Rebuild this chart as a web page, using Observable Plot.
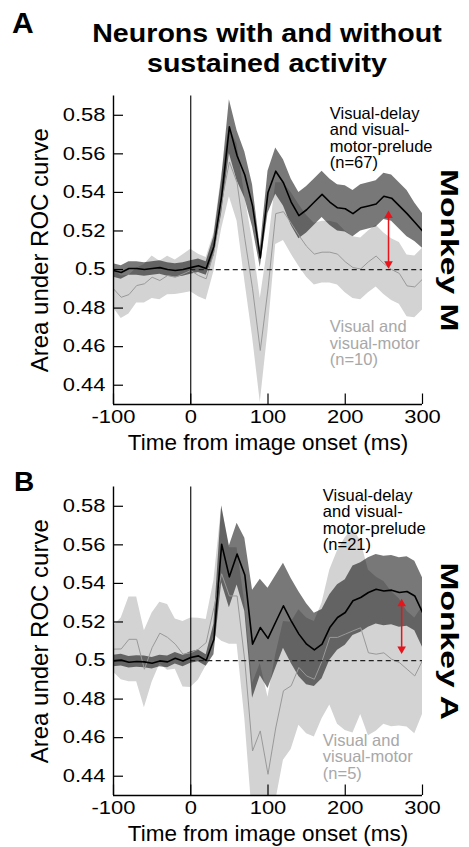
<!DOCTYPE html>
<html><head><meta charset="utf-8">
<script src="https://cdn.jsdelivr.net/npm/d3@7"></script>
<script src="https://cdn.jsdelivr.net/npm/@observablehq/plot@0.6"></script>
<style>
body{margin:0;background:#fff;font-family:"Liberation Sans",Arial,sans-serif;}
#fig{position:relative;width:469px;height:847px;overflow:hidden;background:#fff;}
.panel{position:absolute;left:0;}
.title{position:absolute;left:67px;width:400px;height:27px;text-align:center;font-weight:bold;font-size:26px;line-height:27px;color:#000;z-index:2;transform:scaleX(1.1);transform-origin:200px 50%;}
.plabel{position:absolute;font-weight:bold;color:#000;z-index:2;}
</style></head>
<body><div id="fig">
<div class="title" style="top:20px">Neurons with and without</div>
<div class="title" style="top:50px">sustained activity</div>
<div class="plabel" style="left:12px;top:8px;font-size:30px;line-height:30px;">A</div>
<div class="plabel" style="left:14px;top:468px;font-size:28px;line-height:28px;">B</div>
<div class="panel" id="pA" style="top:0px"></div>
<div class="panel" id="pB" style="top:391px"></div>
</div>
<script>
// ---- data ----
const time = [-100,-90,-80,-70,-60,-50,-40,-30,-20,-10,0,10,20,30,40,50,60,70,80,90,100,110,120,130,140,150,160,170,180,190,200,210,220,230,240,250,260,270,280,290,300];

// Monkey M: visual-delay and visual-motor-prelude (n=67)
const mVd   = [0.4995,0.4985,0.5005,0.5005,0.5,0.5005,0.501,0.5,0.4995,0.5,0.501,0.502,0.5005,0.512,0.538,0.574,0.559,0.549,0.533,0.506,0.540,0.551,0.545,0.535,0.528,0.531,0.535,0.539,0.535,0.532,0.5315,0.529,0.532,0.533,0.534,0.538,0.537,0.533,0.529,0.5245,0.520];
const mVdSe = [0.0035,0.0035,0.0035,0.0035,0.0035,0.0035,0.0035,0.0035,0.0035,0.0035,0.0035,0.0035,0.0035,0.005,0.009,0.014,0.013,0.012,0.011,0.005,0.011,0.012,0.012,0.012,0.012,0.012,0.012,0.012,0.012,0.012,0.012,0.012,0.012,0.012,0.012,0.012,0.012,0.012,0.012,0.010,0.009];
// Monkey M: visual and visual-motor (n=10)
const mV    = [0.490,0.4856,0.487,0.4917,0.4926,0.496,0.4943,0.4969,0.496,0.4977,0.4995,0.4969,0.4952,0.509,0.535,0.5558,0.545,0.516,0.49,0.458,0.49,0.529,0.530,0.524,0.5177,0.512,0.508,0.509,0.509,0.508,0.504,0.501,0.5003,0.504,0.507,0.503,0.5,0.498,0.4915,0.491,0.495];
const mVSe  = [0.010,0.011,0.010,0.009,0.010,0.011,0.010,0.010,0.009,0.010,0.011,0.011,0.011,0.010,0.014,0.018,0.020,0.022,0.025,0.027,0.022,0.016,0.015,0.016,0.016,0.016,0.016,0.016,0.016,0.016,0.016,0.016,0.016,0.016,0.016,0.016,0.016,0.016,0.016,0.016,0.016];

// Monkey A: visual-delay and visual-motor-prelude (n=21)
const aVd   = [0.4998,0.5002,0.4991,0.4995,0.4993,0.4986,0.4998,0.4993,0.5012,0.4998,0.5016,0.5024,0.5,0.511,0.5603,0.5434,0.5552,0.5444,0.5085,0.5171,0.5115,0.520,0.5284,0.5206,0.5137,0.5085,0.5055,0.5085,0.5171,0.5223,0.5249,0.531,0.5327,0.5353,0.537,0.5361,0.5365,0.5353,0.5358,0.5335,0.5249];
const aVdSe = [0.003,0.003,0.003,0.003,0.003,0.003,0.003,0.003,0.003,0.003,0.003,0.003,0.003,0.008,0.02,0.016,0.016,0.019,0.028,0.025,0.026,0.024,0.022,0.022,0.022,0.021,0.019,0.018,0.017,0.017,0.017,0.018,0.018,0.018,0.018,0.018,0.018,0.018,0.018,0.018,0.018];
// Monkey A: visual and visual-motor (n=5)
const aV    = [0.5059,0.506,0.511,0.511,0.4955,0.5067,0.5142,0.512,0.5085,0.5033,0.504,0.5059,0.5093,0.5275,0.545,0.5335,0.5335,0.4998,0.4531,0.4635,0.441,0.465,0.4843,0.4869,0.4964,0.492,0.4903,0.4998,0.512,0.512,0.5137,0.5154,0.517,0.504,0.5033,0.504,0.5007,0.499,0.4955,0.492,0.5];
const aVSe  = [0.012,0.016,0.022,0.022,0.02,0.018,0.016,0.017,0.013,0.017,0.018,0.016,0.012,0.014,0.035,0.025,0.025,0.03,0.035,0.035,0.04,0.038,0.036,0.033,0.03,0.03,0.03,0.03,0.035,0.045,0.05,0.053,0.045,0.043,0.04,0.037,0.035,0.033,0.03,0.03,0.028];

// axes
const xDomain = [-100, 300];
const yDomain = [0.43, 0.59];
const xTicks = [-100, 0, 100, 200, 300];
const xTickLabels = ["-100", "0", "100", "200", "300"];
const yTicks = [0.44, 0.46, 0.48, 0.5, 0.52, 0.54, 0.56, 0.58];
const yTickLabels = ["0.44", "0.46", "0.48", "0.5", "0.52", "0.54", "0.56", "0.58"];
const xLabel = "Time from image onset (ms)";
const yLabel = "Area under ROC curve";
const chance = [{auc: 0.5, t1: 0, t2: 300}];

// annotations (data coordinates)
const labelsM = [
  {t: 180, auc: 0.5842, text: "Visual-delay\nand visual-\nmotor-prelude\n(n=67)", kind: "vd"},
  {t: 180, auc: 0.4736, text: "Visual and\nvisual-motor\n(n=10)", kind: "v"}
];
const labelsA = [
  {t: 171, auc: 0.589, text: "Visual-delay\nand visual-\nmotor-prelude\n(n=21)", kind: "vd"},
  {t: 171, auc: 0.462, text: "Visual and\nvisual-motor\n(n=5)", kind: "v"}
];
const arrowM = [{t: 256, lo: 0.503, hi: 0.528}];
const arrowA = [{t: 273, lo: 0.506, hi: 0.5294}];

function makePanel(name, vd, vdSe, v, vSe, labels, arrow) {
  const rows = time.map((t, i) => ({t, vd: vd[i], vdSe: vdSe[i], v: v[i], vSe: vSe[i]}));
  const font = '"Liberation Sans", Arial, sans-serif';
  const plot = Plot.plot({
    width: 469, height: 462,
    marginLeft: 113, marginRight: 47, marginTop: 95.5, marginBottom: 58,
    x: {domain: xDomain, axis: null},
    y: {domain: yDomain, axis: null},
    style: {fontFamily: font, background: "transparent", color: "black"},
    marks: [
      Plot.areaY(rows, {x: "t", y1: d => d.v - d.vSe, y2: d => d.v + d.vSe, fill: "#d3d3d3", clip: true}),
      Plot.areaY(rows, {x: "t", y1: d => d.vd - d.vdSe, y2: d => d.vd + d.vdSe, fill: "black", fillOpacity: 0.53, clip: true}),
      Plot.lineY(rows, {x: "t", y: "v", stroke: "#999", strokeWidth: 1, clip: true}),
      Plot.ruleY(chance, {y: "auc", x1: "t1", x2: "t2", stroke: "#222", strokeWidth: 1.2, strokeDasharray: "5,3.5"}),
      Plot.lineY(rows, {x: "t", y: "vd", stroke: "black", strokeWidth: 1.6, clip: true}),
      Plot.ruleX([0], {stroke: "black", strokeWidth: 1.1}),
      Plot.ruleX([xDomain[0]], {stroke: "black", strokeWidth: 1.4}),
      Plot.ruleY([yDomain[0]], {stroke: "black", strokeWidth: 1.4}),
      Plot.tickY(yTicks, {y: d => d, insetRight: 299, stroke: "black", strokeWidth: 1.2}),
      Plot.tickX(xTicks, {x: d => d, insetTop: 298, stroke: "black", strokeWidth: 1.2}),
      Plot.axisY({ticks: yTicks, tickSize: 0, tickPadding: 8, fontSize: 18, tickFormat: d => yTickLabels[yTicks.indexOf(d)]}),
      Plot.axisX({ticks: xTicks, tickSize: 0, tickPadding: 6, fontSize: 18, label: null, tickFormat: d => xTickLabels[xTicks.indexOf(d)]}),
      Plot.text([xLabel], {frameAnchor: "bottom", dy: 30, lineAnchor: "top", textAnchor: "middle", fontSize: 22.5, text: d => d}),
      Plot.text([yLabel], {frameAnchor: "left", dx: -73, rotate: -90, textAnchor: "middle", lineAnchor: "middle", fontSize: 24, text: d => d}),
      Plot.text([name], {frameAnchor: "right", dx: 26, rotate: 90, textAnchor: "middle", lineAnchor: "middle", fontSize: 24, fontWeight: "bold", text: d => d}),
      Plot.text(labels, {x: "t", y: "auc", text: "text", textAnchor: "start", lineAnchor: "top", fontSize: 16.5, lineHeight: 1.0,
        fill: d => d.kind === "vd" ? "black" : "#a8a8a8"}),
      Plot.link(arrow, {x1: "t", x2: "t", y1: "lo", y2: "hi", stroke: "#e8141b", strokeWidth: 1.5}),
      Plot.dot(arrow, {x: "t", y: "hi", symbol: "triangle", r: 3.2, fill: "#e8141b", stroke: "none"}),
      Plot.dot(arrow, {x: "t", y: "lo", symbol: "triangle", r: 3.2, fill: "#e8141b", stroke: "none", rotate: 180})
    ]
  });
  // stretch the wide glyphs of tick labels and the monkey label
  d3.select(plot).selectAll("g[aria-label='y-axis tick label'] text, g[aria-label='x-axis tick label'] text").each(function() {
    const tr = this.getAttribute("transform");
    if (tr) this.setAttribute("transform", tr + " scale(1.22,1)");
  });
  d3.select(plot).selectAll("text").each(function() {
    if (this.textContent === name) {
      const tr = this.getAttribute("transform");
      if (tr) this.setAttribute("transform", tr + " scale(1.4,1)");
    }
  });
  return plot;
}

document.getElementById("pA").appendChild(makePanel("Monkey M", mVd, mVdSe, mV, mVSe, labelsM, arrowM));
document.getElementById("pB").appendChild(makePanel("Monkey A", aVd, aVdSe, aV, aVSe, labelsA, arrowA));
</script>
</body></html>
